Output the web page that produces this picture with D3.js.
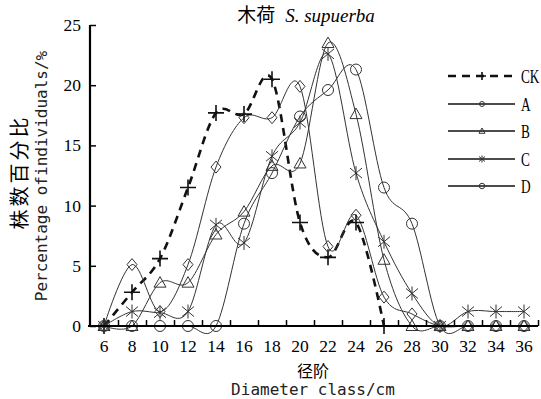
<!DOCTYPE html>
<html>
<head>
<meta charset="utf-8">
<script src="https://cdn.jsdelivr.net/npm/d3@7"></script>
<style>
  body { margin: 0; background: #fff; }
</style>
</head>
<body>
<div id="chart-container"></div>
<script>
// Chart dimensions.
const width = 541;
const height = 399;

// Diameter classes (x values) and tick labels.
const classes = [6, 8, 10, 12, 14, 16, 18, 20, 22, 24, 26, 28, 30, 32, 34, 36];
const yTicks = [0, 5, 10, 15, 20, 25];
const seriesNames = ["CK", "A", "B", "C", "D"];

// Percentage of individuals per class.
const ck = [0, 2.8, 5.6, 11.5, 17.7, 17.6, 20.5, 8.6, 5.7, 8.6, 0, 0, 0, 0, 0, 0];
const seriesA = [0, 5.1, 1.2, 5.1, 13.2, 17.3, 17.3, 19.9, 6.6, 9.2, 2.4, 1.0, 0, 0, 0, 0];
const seriesB = [0, 0, 3.6, 3.6, 7.6, 9.5, 13.3, 13.5, 23.5, 17.6, 5.5, 0, 0, 0, 0, 0];
const seriesC = [0, 1.2, 1.1, 1.2, 8.4, 6.9, 14.1, 16.9, 22.6, 12.7, 7.0, 2.7, 0, 1.2, 1.2, 1.2];
const seriesD = [0, 0, 0, 0, 0, 8.5, 12.7, 17.4, 19.6, 21.3, 11.5, 8.5, 0, 0, 0, 0];

const allSeries = [ck, seriesA, seriesB, seriesC, seriesD];

// Scales.
const x = d3.scaleLinear().domain([5, 37]).range([90, 538]);
const y = d3.scaleLinear().domain([0, 25]).range([326, 25]);

const svg = d3.create("svg")
    .attr("width", width)
    .attr("height", height)
    .attr("font-family", "'Liberation Serif', serif");

// Marker shapes, drawn around (0,0).
function marker(g, name, s) {
  if (name === "CK") {
    g.append("path").attr("d", `M${-8 * s},0H${8 * s}M0,${-8 * s}V${8 * s}`)
      .attr("stroke", "#111").attr("stroke-width", 1.6);
  } else if (name === "A") {
    g.append("path").attr("d", `M0,${-6 * s}L${5 * s},0L0,${6 * s}L${-5 * s},0Z`)
      .attr("fill", "none").attr("stroke", "#333").attr("stroke-width", 1);
  } else if (name === "B") {
    g.append("path").attr("d", `M0,${-6 * s}L${6 * s},${4.5 * s}L${-6 * s},${4.5 * s}Z`)
      .attr("fill", "none").attr("stroke", "#333").attr("stroke-width", 1);
  } else if (name === "C") {
    g.append("path").attr("d", `M${-6 * s},${-5 * s}L${6 * s},${5 * s}M${6 * s},${-5 * s}L${-6 * s},${5 * s}M0,${-7 * s}V${7 * s}`)
      .attr("stroke", "#333").attr("stroke-width", 1);
  } else {
    g.append("circle").attr("r", 5.5 * s)
      .attr("fill", "none").attr("stroke", "#333").attr("stroke-width", 1);
  }
}

// Smoothed lines.
const line = d3.line()
    .x((d, i) => x(classes[i]))
    .y(d => y(d))
    .curve(d3.curveCardinal.tension(0));

// Where a series stops being drawn (CK ends at class 26).
const lastIndex = [10, 15, 15, 15, 15];

allSeries.forEach((vals, k) => {
  const data = vals.slice(0, lastIndex[k] + 1);
  svg.append("path")
      .attr("d", line(data))
      .attr("fill", "none")
      .attr("stroke", k === 0 ? "#111" : "#333")
      .attr("stroke-width", k === 0 ? 2.6 : 1)
      .attr("stroke-dasharray", k === 0 ? "8,6" : null);
});

// Markers.
allSeries.forEach((vals, k) => {
  vals.slice(0, lastIndex[k] + 1).forEach((v, i) => {
    const g = svg.append("g").attr("transform", `translate(${x(classes[i])},${y(v)})`);
    marker(g, seriesNames[k], 1);
  });
});

// Axes with inward ticks.
svg.append("g")
    .attr("transform", `translate(0,${y(0)})`)
    .call(d3.axisTop(x).tickValues(d3.range(7, 38, 2)).tickSize(6).tickFormat(""))
    .call(g => g.select(".domain").attr("d", `M${x(5) - 2},0H${x(37)}`).attr("stroke-width", 2.2))
    .call(g => g.selectAll(".tick line").attr("stroke-width", 1.5));

svg.append("g")
    .attr("transform", `translate(${x(5)},0)`)
    .call(d3.axisRight(y).tickValues(yTicks).tickSize(6).tickFormat(""))
    .call(g => g.select(".domain").attr("d", `M0,${y(25)}V${y(0)}`).attr("stroke-width", 2.2))
    .call(g => g.selectAll(".tick line").attr("stroke-width", 1.5));

// Tick labels.
svg.append("g").selectAll("text")
  .data(classes)
  .join("text")
    .attr("x", d => x(d))
    .attr("y", 352)
    .attr("text-anchor", "middle")
    .attr("font-size", 17.5)
    .text(d => d);

svg.append("g").selectAll("text")
  .data(yTicks)
  .join("text")
    .attr("x", 81)
    .attr("y", d => y(d) + 6)
    .attr("text-anchor", "end")
    .attr("font-size", 17.5)
    .text(d => d);

// Title.
const title = svg.append("text")
    .attr("x", 306)
    .attr("y", 22)
    .attr("text-anchor", "middle")
    .attr("font-size", 19);
title.append("tspan").attr("font-family", "'Noto Sans CJK SC'").text("木荷");
title.append("tspan").attr("font-style", "italic").attr("dx", 10).text("S. supuerba");

// Axis titles.
svg.append("text")
    .attr("x", 313).attr("y", 377)
    .attr("text-anchor", "middle")
    .attr("font-family", "'Noto Sans CJK SC'")
    .attr("font-size", 16)
    .text("径阶");
svg.append("text")
    .attr("x", 313).attr("y", 395)
    .attr("text-anchor", "middle")
    .attr("font-family", "'DejaVu Sans Mono', monospace")
    .attr("font-size", 16)
    .attr("fill", "#222")
    .text("Diameter class/cm");

svg.append("text")
    .attr("transform", "translate(27,172) rotate(-90)")
    .attr("text-anchor", "middle")
    .attr("font-family", "'Noto Sans CJK SC'")
    .attr("font-size", 20)
    .attr("letter-spacing", 3)
    .text("株数百分比");
svg.append("text")
    .attr("transform", "translate(47,176) rotate(-90)")
    .attr("text-anchor", "middle")
    .attr("font-family", "'DejaVu Sans Mono', monospace")
    .attr("font-size", 16)
    .attr("fill", "#222")
    .text("Percentage ofindividuals/%");

// Legend.
const legendY = [76, 104, 131, 159, 186];
seriesNames.forEach((name, k) => {
  const g = svg.append("g").attr("transform", `translate(0,${legendY[k]})`);
  g.append("line")
      .attr("x1", 448).attr("x2", 515)
      .attr("stroke", "#111")
      .attr("stroke-width", k === 0 ? 2.6 : 1.3)
      .attr("stroke-dasharray", k === 0 ? "8,6" : null);
  const m = g.append("g").attr("transform", "translate(482,0)");
  if (name === "A") {
    m.append("circle").attr("r", 2.5).attr("fill", "none").attr("stroke", "#333");
  } else {
    marker(m, name, 0.5);
  }
  g.append("text")
      .attr("transform", "translate(521,7) scale(0.7,1)")
      .attr("font-size", 19)
      .text(name);
});

d3.select("#chart-container").append(() => svg.node());
</script>
</body>
</html>
